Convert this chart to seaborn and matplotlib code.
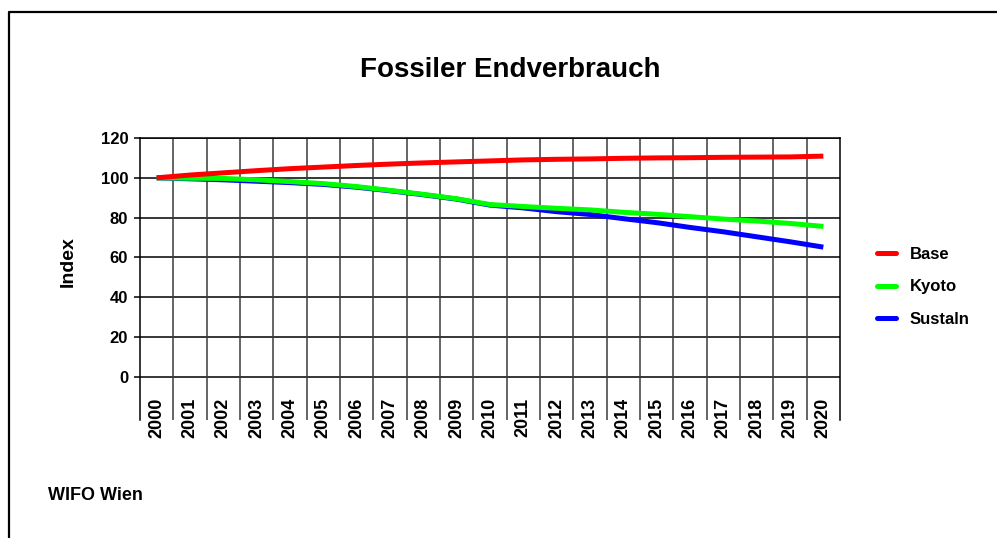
import pandas as pd
import seaborn as sns
import matplotlib.pyplot as plt
from matplotlib.lines import Line2D

# data
years = [str(y) for y in range(2000, 2021)]
base = [100.0, 101.4, 102.5, 103.6, 104.6, 105.4, 106.2, 106.9, 107.5, 108.0, 108.5,
        109.0, 109.3, 109.5, 109.8, 110.0, 110.1, 110.3, 110.4, 110.5, 110.9]
kyoto = [100.0, 99.8, 99.7, 99.0, 98.1, 97.1, 95.6, 93.7, 91.7, 89.5, 86.6,
         85.6, 84.7, 83.9, 82.7, 81.7, 80.5, 79.3, 78.3, 77.1, 75.6]
sustain = [100.0, 99.5, 99.0, 98.3, 97.6, 96.7, 95.3, 93.5, 91.5, 89.3, 86.3,
           84.9, 83.0, 81.6, 79.5, 77.5, 75.1, 72.9, 70.4, 67.9, 65.2]
series_names = ['Base', 'Kyoto', 'Sustaln']
colors = {'Base': '#ff0000', 'Kyoto': '#00ff00', 'Sustaln': '#0000ff'}

df = pd.DataFrame({'Jahr': list(range(len(years))) * 3,
                   'Index': base + kyoto + sustain,
                   'Szenario': ['Base'] * 21 + ['Kyoto'] * 21 + ['Sustaln'] * 21})

sns.set_style('white')
plt.rcParams['font.family'] = ['Liberation Sans', 'DejaVu Sans']
plt.rcParams['font.weight'] = 'bold'
plt.rcParams['text.color'] = 'black'
plt.rcParams['xtick.color'] = 'black'
plt.rcParams['ytick.color'] = 'black'

fig = plt.figure(figsize=(9.97, 5.38), dpi=100)
ax = fig.add_axes([140 / 997, 1 - 420 / 538, 700 / 997, 282 / 538])

# draw order: blue under green under red
for name in ['Sustaln', 'Kyoto', 'Base']:
    sns.lineplot(data=df[df['Szenario'] == name], x='Jahr', y='Index',
                 color=colors[name], linewidth=3.6, ax=ax, legend=False,
                 solid_capstyle='butt')

ax.set_xlim(-0.5, len(years) - 0.5)
ax.set_ylim(-21.6, 120)

# horizontal grid (0..120) and vertical category separators
for v in range(0, 121, 20):
    ax.axhline(v, color='black', lw=1.1, zorder=1)
for i in range(len(years) - 1):
    ax.axvline(i + 0.5, color='#3a3a3a', lw=1.1, zorder=1)

ax.set_yticks(range(0, 121, 20))
ax.set_yticklabels([str(v) for v in range(0, 121, 20)], fontsize=12, fontweight='bold')
ax.tick_params(axis='y', length=4.5, width=1.1, color='black', pad=4, left=True)

ax.set_xticks(range(len(years)))
ax.set_xticklabels(years, rotation=90, fontsize=13, fontweight='bold')
ax.tick_params(axis='x', length=0, pad=-15.8)

for s in ['left', 'right', 'top']:
    ax.spines[s].set_visible(True)
    ax.spines[s].set_color('black')
    ax.spines[s].set_linewidth(1.1)
ax.spines['bottom'].set_visible(False)
ax.set_xlabel('')
ax.set_ylabel('')

fig.text(510 / 997, 1 - 70 / 538, 'Fossiler Endverbrauch', ha='center', va='center',
         fontsize=20, fontweight='bold')
fig.text(68 / 997, 1 - 262 / 538, 'Index', rotation=90, ha='center', va='center',
         fontsize=14, fontweight='bold')
fig.text(48 / 997, 1 - 496 / 538, 'WIFO Wien', ha='left', va='center',
         fontsize=13, fontweight='bold')

handles = [Line2D([], [], color=colors[n], lw=3.6) for n in series_names]
fig.legend(handles, series_names, loc='upper left', frameon=False,
           bbox_to_anchor=(877 / 997, 1 - 247 / 538), borderpad=0, borderaxespad=0,
           handlelength=1.15, handletextpad=0.8, labelspacing=1.05,
           prop={'size': 12, 'weight': 'bold'})

# outer frame: left and top edge only
fig.add_artist(Line2D([9 / 997, 9 / 997, 1.0], [0.0, 1 - 12 / 538, 1 - 12 / 538],
                      transform=fig.transFigure, color='black', lw=1.6))

fig.savefig('out.png', dpi=100)
